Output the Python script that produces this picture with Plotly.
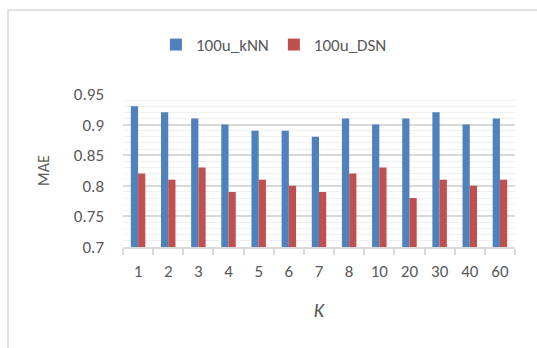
import plotly.graph_objects as go

k_values = ["1", "2", "3", "4", "5", "6", "7", "8", "10", "20", "30", "40", "60"]
mae_knn = [0.93, 0.92, 0.91, 0.90, 0.89, 0.89, 0.88, 0.91, 0.90, 0.91, 0.92, 0.90, 0.91]
mae_dsn = [0.82, 0.81, 0.83, 0.79, 0.81, 0.80, 0.79, 0.82, 0.83, 0.78, 0.81, 0.80, 0.81]
y_ticks = [0.7, 0.75, 0.8, 0.85, 0.9, 0.95]

W, H = 537, 348
ML, MR, MT, MB = 123, 22, 94, 101
PW, PH = W - ML - MR, H - MT - MB

font_family = "Carlito, Lato, 'Open Sans', sans-serif"
text_color = "#595959"

fig = go.Figure()
fig.add_trace(go.Bar(x=k_values, y=mae_knn, name="100u_kNN", marker=dict(color="#4F81BD", line=dict(width=0))))
fig.add_trace(go.Bar(x=k_values, y=mae_dsn, name="100u_DSN", marker=dict(color="#C0504D", line=dict(width=0))))

# outer chart border (top and left edges visible)
fig.add_shape(type="rect", xref="paper", yref="paper",
              x0=(8 - ML) / PW, x1=(W + 20 - ML) / PW,
              y0=-(H + 20 - (MT + PH)) / PH, y1=1 + (MT - 10) / PH,
              line=dict(color="#D9D9D9", width=1.5), fillcolor="rgba(0,0,0,0)", layer="below")

fig.update_layout(
    width=W, height=H,
    margin=dict(l=ML, r=MR, t=MT, b=MB),
    paper_bgcolor="white", plot_bgcolor="white",
    barmode="group", bargap=0.52, bargroupgap=0,
    font=dict(family=font_family, color=text_color, size=17),
    legend=dict(orientation="h", x=0.385, xanchor="center", y=1 + (MT - 45) / PH, yanchor="middle",
                font=dict(size=17, color=text_color), itemwidth=30, traceorder="normal"),
    xaxis=dict(type="category", showline=True, linecolor="#D9D9D9", linewidth=1.5,
               ticks="outside", tickson="boundaries", ticklen=6, tickcolor="#D9D9D9", tickwidth=1.5,
               ticklabelstandoff=8,
               tickfont=dict(size=17, color=text_color), showgrid=False,
               title=dict(text="<i>K</i>", font=dict(size=20, color=text_color), standoff=22)),
    yaxis=dict(range=[0.7, 0.95], tickvals=y_ticks, ticktext=[f"{v:g}" for v in y_ticks],
               showgrid=True, gridcolor="#D9D9D9", gridwidth=1.5, zeroline=False,
               showline=False, ticks="", ticklabelstandoff=18,
               tickfont=dict(size=17, color=text_color),
               minor=dict(dtick=0.01, showgrid=True, gridcolor="#F0F0F0", gridwidth=1),
               title=dict(text="MAE", font=dict(size=16, color=text_color), standoff=20)),
)

fig.write_html("out.html")
